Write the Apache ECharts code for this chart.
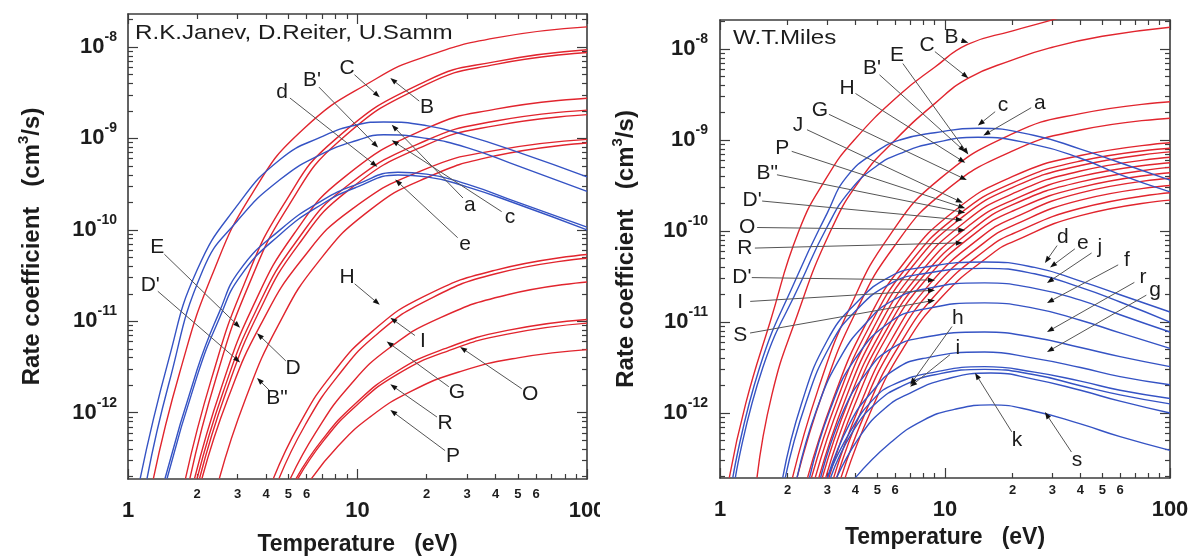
<!DOCTYPE html>
<html>
<head>
<meta charset="utf-8">
<script src="https://cdn.jsdelivr.net/npm/echarts@6/dist/echarts.min.js"></script>
<style>
  html, body { margin: 0; padding: 0; background: #fff; }
  #janev { position: absolute; left: 0; top: 0; width: 600px; height: 557px; }
  #miles { position: absolute; left: 600px; top: 0; width: 596px; height: 557px; }
</style>
</head>
<body>
<div id="janev"></div>
<div id="miles"></div>
<script>
// points are [temperature in eV, log10 of rate coefficient in cm^3/s]

// --- Janev / Reiter / Samm (left panel) ---
const jB  = [[1.29,-12.72],[1.68,-11.56],[2.32,-10.50],[3.48,-9.6],[5.8,-8.9],[12,-8.35],[20,-8.1],[40,-7.9],[100,-7.78]];
const jC  = [[1.78,-12.72],[2.31,-11.63],[3.2,-10.60],[4.8,-9.71],[8,-9.01],[20,-8.37],[40,-8.16],[100,-8.03]];
const jC2 = [[1.86,-12.72],[2.42,-11.62],[3.35,-10.61],[5.0,-9.74],[8.4,-9.02],[20,-8.41],[40,-8.19],[100,-8.06]];
const jB1 = [[1.95,-12.72],[2.54,-11.74],[3.5,-10.84],[5.3,-10.04],[8.8,-9.42],[20,-8.89],[40,-8.68],[100,-8.56]];
const jE  = [[2.0,-12.72],[2.6,-11.77],[3.6,-10.89],[5.4,-10.13],[9,-9.52],[20,-9.02],[40,-8.81],[100,-8.69]];
const jD1 = [[2.05,-12.72],[2.67,-11.78],[3.7,-10.91],[5.5,-10.17],[9.2,-9.56],[20,-9.07],[40,-8.86],[100,-8.74]];
const jD  = [[2.1,-12.72],[2.73,-11.84],[3.78,-11.04],[5.7,-10.33],[9.5,-9.77],[20,-9.33],[40,-9.13],[100,-9.01]];
const jB2 = [[2.5,-12.72],[3.25,-11.85],[4.5,-11.05],[6.75,-10.35],[11.25,-9.79],[20,-9.43],[40,-9.19],[100,-9.05]];
const jH  = [[4.3,-12.72],[5.6,-12.12],[7.74,-11.58],[11.6,-11.11],[19.4,-10.73],[40,-10.44],[100,-10.27]];
const jI  = [[4.55,-12.72],[5.9,-12.14],[8.2,-11.60],[12.3,-11.13],[20.5,-10.76],[40,-10.48],[100,-10.31]];
const jG  = [[5.1,-12.72],[6.6,-12.21],[9.2,-11.71],[13.8,-11.29],[23,-10.96],[45,-10.71],[100,-10.57]];
const jO  = [[5.4,-12.72],[7.0,-12.30],[9.7,-11.91],[14.6,-11.56],[24,-11.30],[45,-11.10],[100,-10.98]];
const jR  = [[5.5,-12.72],[7.15,-12.30],[9.9,-11.92],[14.9,-11.58],[25,-11.32],[45,-11.14],[100,-11.02]];
const jP  = [[6.3,-12.72],[8.2,-12.37],[11.3,-12.05],[17,-11.77],[28,-11.55],[50,-11.40],[100,-11.31]];

const ja = [[1.13,-12.72],[1.5,-11.43],[2,-10.44],[3,-9.73],[4.6,-9.23],[7,-8.98],[10,-8.85],[13,-8.82],[20,-8.86],[30,-8.97],[50,-9.15],[100,-9.42]];
const jc = [[1.21,-12.72],[1.5,-11.70],[2.12,-10.44],[3,-9.90],[4.6,-9.45],[7,-9.17],[10,-9.02],[13,-8.96],[20,-9.0],[30,-9.1],[50,-9.3],[100,-9.58]];
const jd = [[1.45,-12.72],[2,-11.53],[2.5,-10.9],[3.07,-10.44],[4.6,-10.0],[7,-9.68],[10,-9.5],[15,-9.37],[20,-9.39],[30,-9.5],[50,-9.7],[100,-9.97]];
const je = [[1.48,-12.72],[2,-11.6],[2.5,-10.97],[3.1,-10.5],[4.6,-10.05],[7,-9.72],[10,-9.53],[15,-9.40],[20,-9.42],[30,-9.53],[50,-9.72],[100,-10.0]];

// label, label T, label lgK, arrow tip T, arrow tip lgK
const janevNotes = [
  ['C', 9.0, -8.23, 12.5, -8.55], ['B', 20.1, -8.66, 13.9, -8.34],
  ['d', 4.69, -8.49, 12.2, -9.31], ["B'", 6.33, -8.36, 12.3, -9.10],
  ['a', 30.9, -9.73, 14.1, -8.85], ['c', 46.2, -9.86, 14.1, -9.02],
  ['e', 29.4, -10.16, 14.6, -9.45], ['E', 1.34, -10.19, 3.08, -11.07],
  ["D'", 1.25, -10.60, 3.08, -11.45], ['D', 5.24, -11.51, 3.65, -11.13],
  ['B"', 4.46, -11.84, 3.65, -11.62], ['H', 9.0, -10.52, 12.5, -10.82],
  ['I', 19.3, -11.22, 13.9, -10.96], ['G', 27.1, -11.78, 13.4, -11.22],
  ['O', 56.5, -11.80, 28.0, -11.28], ['R', 24.1, -12.11, 13.9, -11.69],
  ['P', 26.1, -12.48, 13.9, -11.97]
];

// --- W.T. Miles (right panel) ---
const mB  = [[1.1,-12.71],[1.3,-11.9],[1.67,-11.0],[2.24,-10.0],[3,-9.4],[3.95,-9.0],[6.3,-8.5],[9,-8.2],[12.6,-7.95],[20,-7.8],[30,-7.68],[50,-7.52],[100,-7.38]];
const mC  = [[1.46,-12.71],[1.7,-11.8],[2.15,-11.0],[3.1,-10.0],[4.3,-9.4],[6.0,-9.0],[9,-8.6],[12.7,-8.32],[20,-8.12],[29,-7.99],[50,-7.86],[100,-7.76]];
const mB1 = [[2.1,-12.71],[2.73,-11.74],[3.78,-10.84],[5.67,-10.05],[9.45,-9.43],[20,-8.93],[40,-8.71],[100,-8.58]];
const mE  = [[2.2,-12.71],[2.86,-11.78],[3.96,-10.92],[5.94,-10.17],[9.9,-9.57],[20,-9.12],[40,-8.89],[100,-8.76]];
const mH  = [[2.45,-12.71],[3.19,-11.84],[4.41,-11.04],[6.62,-10.34],[11,-9.78],[20,-9.40],[40,-9.17],[100,-9.03]];
const mG  = [[2.55,-12.71],[3.32,-11.85],[4.59,-11.06],[6.89,-10.37],[11.5,-9.82],[20,-9.47],[40,-9.23],[100,-9.09]];
const mJ  = [[2.65,-12.71],[3.45,-11.86],[4.77,-11.08],[7.16,-10.39],[11.9,-9.85],[20,-9.52],[40,-9.28],[100,-9.13]];
const mP  = [[2.75,-12.71],[3.58,-11.87],[4.95,-11.10],[7.43,-10.43],[12.4,-9.89],[20,-9.59],[40,-9.34],[100,-9.19]];
const mB2 = [[2.85,-12.71],[3.71,-11.88],[5.13,-11.13],[7.7,-10.47],[12.8,-9.94],[20,-9.66],[40,-9.40],[100,-9.25]];
const mD1 = [[2.95,-12.71],[3.84,-11.89],[5.31,-11.15],[7.97,-10.50],[13.3,-9.98],[20,-9.71],[40,-9.46],[100,-9.30]];
const mO  = [[3.05,-12.71],[3.97,-11.91],[5.49,-11.17],[8.24,-10.53],[13.7,-10.02],[20,-9.78],[40,-9.52],[100,-9.36]];
const mR  = [[3.2,-12.71],[4.16,-11.93],[5.76,-11.20],[8.64,-10.57],[14.4,-10.07],[20,-9.86],[40,-9.58],[100,-9.42]];
const mD2 = [[3.3,-12.71],[4.29,-11.95],[5.94,-11.24],[8.91,-10.62],[14.9,-10.13],[20,-9.94],[40,-9.66],[100,-9.50]];
const mI  = [[3.45,-12.71],[4.49,-11.96],[6.21,-11.27],[9.32,-10.67],[15.5,-10.19],[20,-10.03],[40,-9.75],[100,-9.58]];
const mS  = [[3.6,-12.71],[4.68,-11.98],[6.48,-11.30],[9.72,-10.72],[16.2,-10.25],[20,-10.12],[40,-9.83],[100,-9.66]];

const mc = [[1.14,-12.71],[1.5,-11.5],[2.2,-10.5],[3,-9.8],[3.67,-9.4],[5,-9.12],[6.3,-9.0],[9,-8.92],[14,-8.87],[25,-8.95],[40,-9.1],[60,-9.25],[100,-9.44]];
const ma = [[1.17,-12.71],[1.55,-11.5],[2.3,-10.55],[3,-9.95],[3.8,-9.55],[5,-9.28],[6.3,-9.15],[9,-9.03],[14,-8.97],[25,-9.05],[40,-9.2],[60,-9.38],[100,-9.57]];
const md = [[1.9,-12.71],[2.3,-11.9],[3,-11.2],[4,-10.8],[5.7,-10.5],[8,-10.4],[15,-10.34],[25,-10.4],[40,-10.55],[60,-10.7],[100,-10.89]];
const me = [[1.95,-12.71],[2.4,-11.9],[3.1,-11.25],[4,-10.88],[5.7,-10.58],[8,-10.47],[15,-10.41],[25,-10.47],[40,-10.62],[60,-10.78],[100,-11.0]];
const mj = [[2.2,-12.71],[2.7,-11.95],[3.5,-11.35],[4.5,-11.0],[5.7,-10.78],[8,-10.64],[15,-10.57],[25,-10.63],[40,-10.76],[60,-10.92],[100,-11.11]];
const mf = [[2.5,-12.71],[3.1,-11.95],[4,-11.4],[5.7,-11.0],[8,-10.86],[15,-10.79],[25,-10.85],[40,-10.98],[60,-11.12],[100,-11.29]];
const mr = [[2.8,-12.71],[3.5,-12.0],[4.5,-11.55],[5.7,-11.3],[8,-11.17],[15,-11.11],[25,-11.17],[40,-11.28],[60,-11.38],[100,-11.49]];
const mg = [[3.0,-12.71],[3.8,-12.1],[4.8,-11.75],[6,-11.52],[8,-11.4],[15,-11.33],[25,-11.4],[40,-11.5],[60,-11.6],[100,-11.69]];
const mh = [[3.0,-12.71],[3.8,-12.2],[4.8,-11.85],[6,-11.68],[9,-11.55],[15,-11.49],[25,-11.55],[40,-11.65],[60,-11.75],[100,-11.84]];
const mi = [[3.1,-12.71],[3.9,-12.2],[5,-11.88],[6.5,-11.7],[9,-11.58],[15,-11.52],[25,-11.58],[40,-11.7],[60,-11.8],[100,-11.9]];
const mk = [[3.3,-12.71],[4.2,-12.25],[5.4,-11.95],[7,-11.78],[10,-11.63],[16,-11.56],[25,-11.63],[40,-11.75],[60,-11.87],[100,-12.0]];
const ms = [[4.0,-12.71],[5.7,-12.33],[8,-12.08],[11,-11.96],[16,-11.91],[25,-11.98],[40,-12.12],[60,-12.26],[100,-12.41]];

const milesNotes = [
  ['B', 10.7, -7.87, 12.7, -7.93], ['C', 8.32, -7.96, 12.7, -8.32],
  ['E', 6.12, -8.07, 12.7, -9.16], ["B'", 4.74, -8.21, 12.3, -9.13],
  ['H', 3.67, -8.43, 12.3, -9.25], ['G', 2.78, -8.67, 12.5, -9.44],
  ['J', 2.22, -8.84, 12.0, -9.69], ['P', 1.89, -9.09, 12.3, -9.75],
  ['B"', 1.62, -9.36, 12.3, -9.80], ["D'", 1.39, -9.66, 12.0, -9.88],
  ['O', 1.32, -9.96, 12.3, -9.99], ['R', 1.29, -10.19, 12.0, -10.13],
  ["D'", 1.25, -10.51, 9.03, -10.54], ['I', 1.23, -10.78, 9.03, -10.65],
  ['S', 1.23, -11.14, 9.03, -10.76],
  ['c', 18.1, -8.62, 14.0, -8.84], ['a', 26.4, -8.59, 14.8, -8.95],
  ['d', 33.4, -10.07, 27.8, -10.35], ['e', 41.0, -10.13, 29.3, -10.40],
  ['j', 48.8, -10.18, 28.4, -10.57], ['f', 64.4, -10.32, 28.4, -10.79],
  ['r', 75.9, -10.51, 28.4, -11.11], ['g', 85.8, -10.65, 28.4, -11.33],
  ['h', 11.4, -10.96, 7.0, -11.69], ['i', 11.4, -11.29, 7.0, -11.71],
  ['k', 20.9, -12.30, 13.6, -11.56], ['s', 38.6, -12.52, 27.8, -11.99]
];

// axis ticks
const xMajor = [1, 10, 100];
const xMinorLabels = [2, 3, 4, 5, 6, 20, 30, 40, 50, 60];
const yMajor = [-12, -11, -10, -9, -8];

const lg = Math.log10;
const xMinorTicks = [];
for (const d of [1, 10]) for (let m = 2; m <= 9; m++) xMinorTicks.push(lg(m * d));
const yMinorTicks = [];
for (let n = -13; n <= -8; n++) for (let m = 2; m <= 9; m++) yMinorTicks.push(n + lg(m));

const RED = '#e1252e';
const BLUE = '#3553c4';
const INK = '#1c1c1c';
const FRAME = '#3c3c3c';
const FONT = '"Liberation Sans", Arial, sans-serif';

function curve(pts, color) {
  return {
    type: 'line', xAxisIndex: 0, yAxisIndex: 0,
    data: pts.map(p => [lg(p[0]), p[1]]),
    showSymbol: false, smooth: 0.5, silent: true, clip: true,
    lineStyle: { color, width: 1.4 }, z: 2
  };
}

function notes(list) {
  return {
    type: 'custom', xAxisIndex: 0, yAxisIndex: 0, silent: true, z: 5,
    data: list.map(n => [lg(n[1]), n[2], lg(n[3]), n[4]]),
    renderItem(params, api) {
      const text = list[params.dataIndex][0];
      const p0 = api.coord([api.value(0), api.value(1)]);
      const p1 = api.coord([api.value(2), api.value(3)]);
      const dx = p1[0] - p0[0], dy = p1[1] - p0[1];
      const len = Math.hypot(dx, dy) || 1;
      const ux = dx / len, uy = dy / len;
      const s = [p0[0] + ux * 10, p0[1] + uy * 10];
      const b = [p1[0] - ux * 7, p1[1] - uy * 7];
      return {
        type: 'group',
        children: [
          { type: 'line', shape: { x1: s[0], y1: s[1], x2: b[0], y2: b[1] }, style: { stroke: '#555', lineWidth: 1 } },
          { type: 'polygon', shape: { points: [p1, [b[0] - uy * 2.6, b[1] + ux * 2.6], [b[0] + uy * 2.6, b[1] - ux * 2.6]] }, style: { fill: '#111' } },
          { type: 'text', x: p0[0], y: p0[1], style: { text, fill: INK, font: '21px ' + FONT, align: 'center', verticalAlign: 'middle' } }
        ]
      };
    }
  };
}

function panel(p) {
  const axisLine = { onZero: false, lineStyle: { color: FRAME, width: 1.6 } };
  const hidden = { show: false, onZero: false };
  const tick = (vals, len) => ({ inside: true, length: len, customValues: vals, lineStyle: { color: FRAME, width: 1.2 } });
  const xMajV = xMajor.map(lg);
  const xBase = { type: 'value', min: 0, max: 2, splitLine: { show: false }, axisLine };
  const yBase = { type: 'value', min: p.yMin, max: p.yMax, splitLine: { show: false }, axisLine };
  const off = { show: false };
  const boldText = { color: INK, fontWeight: 'bold', fontFamily: FONT };
  return {
    animation: false,
    backgroundColor: '#fff',
    grid: { left: p.left, top: p.top, width: p.width, height: p.height, outerBoundsMode: 'none' },
    xAxis: [
      { ...xBase, position: 'bottom', axisTick: tick(xMajV, 10),
        axisLabel: { customValues: xMajV, margin: p.xMajMargin, formatter: v => String(Math.round(Math.pow(10, v))), fontSize: 22, ...boldText },
        name: 'Temperature   (eV)', nameLocation: 'middle', nameGap: p.xNameGap,
        nameTextStyle: { fontSize: 23, ...boldText } },
      { ...xBase, position: 'bottom', axisLine: hidden, axisTick: tick(xMinorTicks, 5),
        axisLabel: { customValues: xMinorLabels.map(lg), margin: p.xMinMargin, formatter: v => String(Math.round(Math.pow(10, v)))[0], fontSize: 13, ...boldText } },
      { ...xBase, position: 'top', axisTick: tick(xMajV, 10), axisLabel: off },
      { ...xBase, position: 'top', axisLine: hidden, axisTick: tick(xMinorTicks, 5), axisLabel: off }
    ],
    yAxis: [
      { ...yBase, position: 'left', axisTick: tick(yMajor, 10),
        axisLabel: { customValues: yMajor, margin: p.yMargin, formatter: v => '{b|10}{s|' + Math.round(v) + '}',
          rich: { b: { fontSize: 22, lineHeight: 34, ...boldText }, s: { fontSize: 14, lineHeight: 12, verticalAlign: 'top', ...boldText } } },
        name: '{t|Rate coefficient   (cm}{s|3}{t|/s)}', nameLocation: 'middle', nameGap: p.yNameGap, nameRotate: 90,
        nameTextStyle: { rich: { t: { fontSize: 24, lineHeight: 32, ...boldText }, s: { fontSize: 15, lineHeight: 12, verticalAlign: 'top', ...boldText } } } },
      { ...yBase, position: 'left', axisLine: hidden, axisTick: tick(yMinorTicks, 5), axisLabel: off },
      { ...yBase, position: 'right', axisTick: tick(yMajor, 10), axisLabel: off },
      { ...yBase, position: 'right', axisLine: hidden, axisTick: tick(yMinorTicks, 5), axisLabel: off }
    ],
    graphic: [{
      type: 'text', x: p.title[1], y: p.title[2], scaleX: 1.15,
      style: { text: p.title[0], fill: INK, font: '21px ' + FONT, verticalAlign: 'top' }
    }],
    series: [
      ...p.red.map(c => curve(c, RED)),
      ...p.blue.map(c => curve(c, BLUE)),
      notes(p.notes)
    ]
  };
}

const left = echarts.init(document.getElementById('janev'));
left.setOption(panel({
  left: 128, top: 14, width: 459, height: 465, yMin: -12.725, yMax: -7.639,
  xMajMargin: 21, xMinMargin: 9, xNameGap: 54, yMargin: 11, yNameGap: 80,
  title: ['R.K.Janev, D.Reiter, U.Samm', 135, 23],
  red: [jB, jC, jC2, jB1, jE, jD1, jD, jB2, jH, jI, jG, jO, jR, jP],
  blue: [ja, jc, jd, je],
  notes: janevNotes
}));

const right = echarts.init(document.getElementById('miles'));
right.setOption(panel({
  left: 120, top: 20, width: 450, height: 458, yMin: -12.714, yMax: -7.681,
  xMajMargin: 21, xMinMargin: 6, xNameGap: 45, yMargin: 12, yNameGap: 78,
  title: ['W.T.Miles', 133, 28],
  red: [mB, mC, mB1, mE, mH, mG, mJ, mP, mB2, mD1, mO, mR, mD2, mI, mS],
  blue: [mc, ma, md, me, mj, mf, mr, mg, mh, mi, mk, ms],
  notes: milesNotes
}));
</script>
</body>
</html>
